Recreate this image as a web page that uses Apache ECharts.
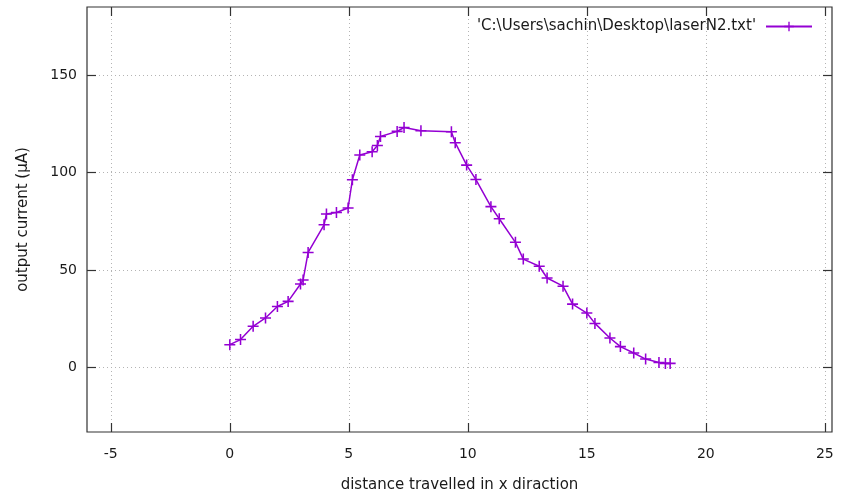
<!DOCTYPE html>
<html>
<head>
<meta charset="utf-8">
<script src="https://cdn.jsdelivr.net/npm/echarts@6/dist/echarts.min.js"></script>
<style>html,body{margin:0;padding:0;background:#fff;}#c{width:842px;height:502px;}</style>
</head>
<body>
<div id="c"></div>
<script>
var xValues = [0, 0.45, 0.98, 1.5, 2.0, 2.45, 2.97, 3.08, 3.29, 3.96, 4.06, 4.48, 4.97, 5.15, 5.46, 5.98, 6.2, 6.33, 7.03, 7.32, 8.03, 9.31, 9.47, 9.95, 10.34, 10.97, 11.32, 12.0, 12.33, 13.0, 13.33, 14.0, 14.4, 15.0, 15.34, 15.97, 16.41, 16.97, 17.47, 18.03, 18.3, 18.5];
var yValues = [11.8, 14.4, 21.2, 25.5, 31.4, 34.0, 42.9, 45.0, 59.1, 73.3, 78.8, 79.6, 81.9, 96.4, 109.1, 110.8, 114.0, 118.6, 121.2, 123.2, 121.5, 121.0, 115.4, 103.9, 96.5, 82.6, 76.4, 64.3, 55.7, 52.0, 46.0, 41.8, 32.6, 28.0, 22.7, 15.2, 10.8, 7.5, 4.4, 2.7, 2.2, 2.2];
var xTicks = [-5, 0, 5, 10, 15, 20, 25];
var yTicks = [0, 50, 100, 150];
var seriesName = "'C:\\Users\\sachin\\Desktop\\laserN2.txt'";
var xLabel = 'distance travelled in x diraction';
var yLabel = 'output current (\u03bcA)';

var FONT = 'DejaVu Sans';
var txtColor = '#1a1a1a';
var plus = 'path://M-1.4,-10 L1.4,-10 L1.4,-1.4 L10,-1.4 L10,1.4 L1.4,1.4 L1.4,10 L-1.4,10 L-1.4,1.4 L-10,1.4 L-10,-1.4 L-1.4,-1.4 Z';

var data = xValues.map(function (x, i) { return [x, yValues[i]]; });

var gridLine = { show: true, lineStyle: { color: '#b4b4b4', width: 1, type: [1, 3] } };
function xAx(pos, main) {
  return {
    type: 'value', position: pos, min: -6, max: 25.3,
    axisLine: { show: false, onZero: false },
    axisTick: { show: true, inside: true, length: 9, customValues: xTicks, lineStyle: { color: '#333', width: 1.2 } },
    axisLabel: { show: main, customValues: xTicks, margin: 15, fontFamily: FONT, fontSize: 14, color: txtColor },
    splitLine: main ? gridLine : { show: false },
    name: main ? xLabel : '', nameLocation: 'middle', nameGap: 46,
    nameTextStyle: { fontFamily: FONT, fontSize: 15, color: txtColor }
  };
}
function yAx(pos, main) {
  return {
    type: 'value', position: pos, min: -33, max: 185,
    axisLine: { show: false, onZero: false },
    axisTick: { show: true, inside: true, length: 9, customValues: yTicks, lineStyle: { color: '#333', width: 1.2 } },
    axisLabel: { show: main, customValues: yTicks, margin: 10, fontFamily: FONT, fontSize: 14, color: txtColor },
    splitLine: main ? gridLine : { show: false },
    name: main ? yLabel : '', nameLocation: 'middle', nameGap: 56, nameRotate: 90,
    nameTextStyle: { fontFamily: FONT, fontSize: 15, color: txtColor }
  };
}

var chart = echarts.init(document.getElementById('c'), null, { renderer: 'canvas' });
chart.setOption({
  animation: false,
  backgroundColor: '#fff',
  grid: { left: 87, top: 7, right: 10, bottom: 70, show: true, borderColor: '#333', borderWidth: 1.2, backgroundColor: 'transparent' },
  legend: {
    show: true, right: 24, top: 14, align: 'right', itemWidth: 46, itemHeight: 12,
    textStyle: { fontFamily: FONT, fontSize: 15, color: txtColor, padding: [0, 5, 0, 0] },
    data: [{ name: seriesName }]
  },
  xAxis: [xAx('bottom', true), xAx('top', false)],
  yAxis: [yAx('left', true), yAx('right', false)],
  series: [{
    name: seriesName, type: 'line', data: data,
    xAxisIndex: 0, yAxisIndex: 0,
    symbol: plus, symbolSize: 11,
    lineStyle: { color: '#9400d3', width: 1.5 },
    itemStyle: { color: '#9400d3' },
    emphasis: { disabled: true }
  }]
});
</script>
</body>
</html>
